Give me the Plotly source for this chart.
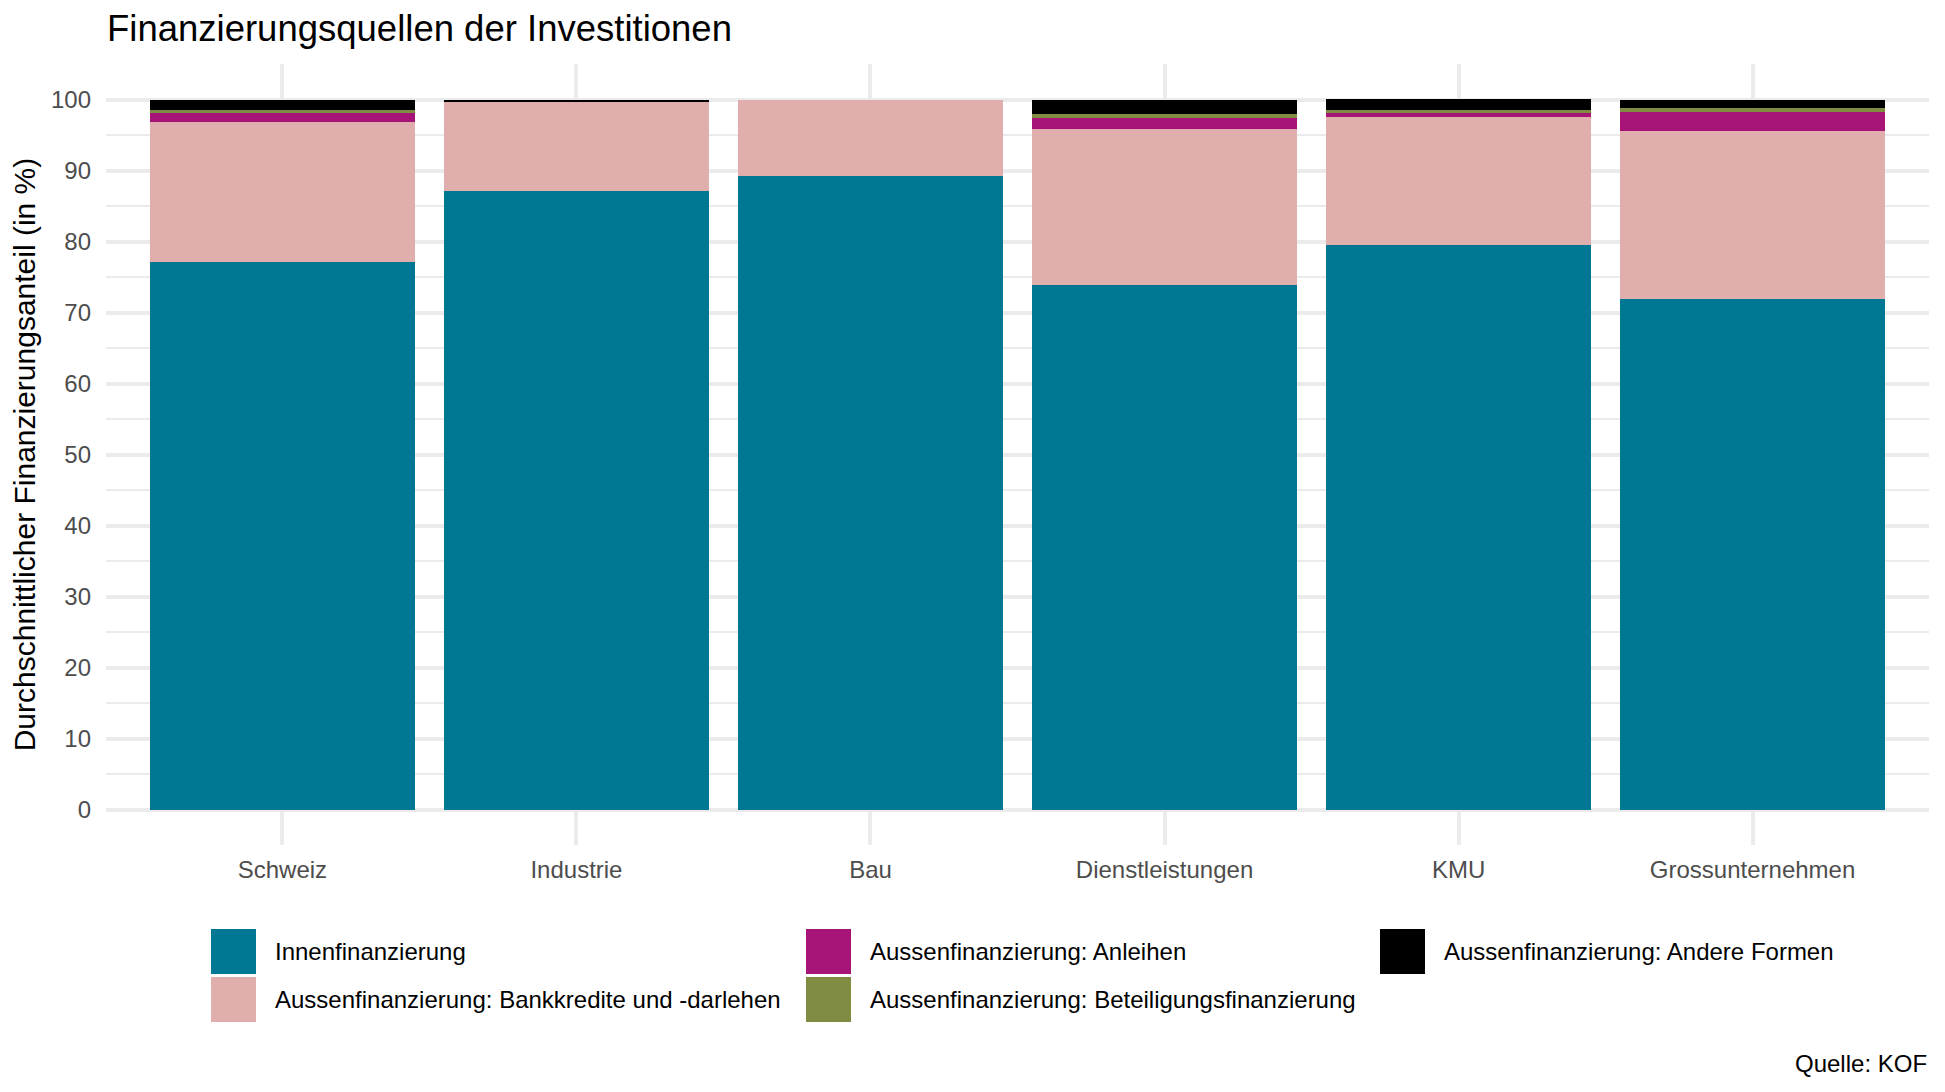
import plotly.graph_objects as go

categories = ["Schweiz", "Industrie", "Bau", "Dienstleistungen", "KMU", "Grossunternehmen"]

series_names = [
    "Innenfinanzierung",
    "Aussenfinanzierung: Bankkredite und -darlehen",
    "Aussenfinanzierung: Anleihen",
    "Aussenfinanzierung: Beteiligungsfinanzierung",
    "Aussenfinanzierung: Andere Formen",
]
innen = [77.1, 87.1, 89.2, 73.9, 79.5, 71.9]
bank = [19.7, 12.6, 10.8, 21.9, 18.0, 23.6]
anleihen = [1.3, 0.0, 0.0, 1.55, 0.55, 2.7]
beteiligung = [0.4, 0.0, 0.0, 0.55, 0.42, 0.55]
andere = [1.5, 0.3, 0.0, 2.1, 1.55, 1.25]
series_values = [innen, bank, anleihen, beteiligung, andere]
colors = ["#017893", "#E0AEAC", "#A61478", "#7F8C41", "#000000"]

y_ticks = [0, 10, 20, 30, 40, 50, 60, 70, 80, 90, 100]

# page has an 8px body margin: size the figure to fit the window
OFF = 8
PW, PH = 1945, 1092
W, H = PW - 2 * OFF, PH - 2 * OFF
L, R, T, B = 106, 1929, 64, 845  # plot panel in page pixels

fig = go.Figure()
for name, vals, col in zip(series_names, series_values, colors):
    fig.add_trace(go.Bar(
        x=categories, y=vals, name=name, marker=dict(color=col, line=dict(width=0)),
        width=0.9, showlegend=False, hoverinfo="x+y+name",
    ))

def px_x(px):
    return (px - L) / (R - L)

def px_y(py):
    return (B - py) / (B - T)

# legend (ggplot style, 3 columns, filled by column, 2 rows)
col_left = [211, 806, 1380]
row_top = [929, 977]
key = 45
shapes = []
annotations = []
for i, (name, col) in enumerate(zip(series_names, colors)):
    c, r = divmod(i, 2)
    x0 = col_left[c]
    y0 = row_top[r]
    shapes.append(dict(type="rect", xref="paper", yref="paper",
                       x0=px_x(x0), x1=px_x(x0 + key), y0=px_y(y0 + key), y1=px_y(y0),
                       fillcolor=col, line=dict(width=0), layer="above"))
    annotations.append(dict(xref="paper", yref="paper", x=px_x(x0 + 62), y=px_y(y0 + key / 2),
                            text=name, showarrow=False, xanchor="left", yanchor="middle",
                            font=dict(size=24, color="#000000")))

annotations.append(dict(xref="paper", yref="paper", x=px_x(1929), y=px_y(1063),
                        text="Quelle: KOF", showarrow=False, xanchor="right", yanchor="middle",
                        font=dict(size=24, color="#000000")))

fig.update_layout(
    width=W, height=H,
    barmode="stack",
    bargap=0.1,
    plot_bgcolor="white", paper_bgcolor="white",
    font=dict(family="Liberation Sans, Arial, sans-serif", size=24, color="#000000"),
    margin=dict(l=L - OFF, r=W - (R - OFF), t=T - OFF, b=H - (B - OFF), pad=0),
    title=dict(text="Finanzierungsquellen der Investitionen", x=(107 - OFF) / W, xanchor="left",
               xref="container", yref="container", y=1 - (28 - OFF) / H, yanchor="middle",
               font=dict(size=36.5, color="#000000")),
    shapes=shapes,
    annotations=annotations,
    showlegend=False,
)
fig.update_xaxes(
    type="category", range=[-0.6, 5.6], showgrid=True, gridcolor="#EBEBEB", gridwidth=4,
    zeroline=False, showline=False, ticks="", tickfont=dict(size=24, color="#4D4D4D"),
    ticklabelstandoff=8,
)
fig.update_yaxes(
    range=[-5, 105], tickvals=y_ticks, ticktext=[str(v) for v in y_ticks],
    showgrid=True, gridcolor="#EBEBEB", gridwidth=4, zeroline=False, showline=False, ticks="",
    tickfont=dict(size=24, color="#4D4D4D"), ticklabelstandoff=14,
    minor=dict(tickvals=[-5, 5, 15, 25, 35, 45, 55, 65, 75, 85, 95, 105], showgrid=True,
               gridcolor="#EBEBEB", gridwidth=1.5),
    title=dict(text="Durchschnittlicher Finanzierungsanteil (in %)", font=dict(size=30, color="#000000"),
               standoff=13),
)

fig.write_html("out.html")
